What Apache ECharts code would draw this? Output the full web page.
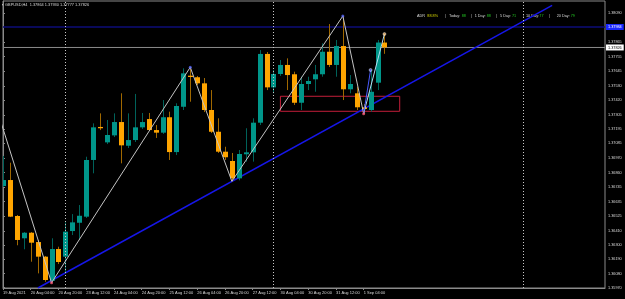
<!DOCTYPE html>
<html><head><meta charset="utf-8">
<script src="https://cdn.jsdelivr.net/npm/echarts@6/dist/echarts.min.js"></script>
<style>html,body{margin:0;padding:0;background:#000;}#c{width:625px;height:299px;}</style>
</head><body><div id="c"></div>
<script>
// GBPUSD H4 candles (bar index 0 = 19 Aug 2021 12:00)
const opens = [1.36756,1.36802,1.36524,1.36352,1.36395,1.36323,1.36210,1.36024,1.36269,1.36210,
1.36408,1.36472,1.36519,1.36957,1.37212,1.37093,1.37147,1.37250,1.37067,1.37111,
1.37209,1.37273,1.37188,1.37168,1.37287,1.37018,1.37368,1.37608,1.37596,1.37549,
1.37343,1.37175,1.37021,1.36949,1.36815,1.37001,1.37016,1.37245,1.37776,1.37518,
1.37621,1.37691,1.37619,1.37399,1.37544,1.37580,1.37619,1.37793,1.37691,1.37837,
1.37503,1.37472,1.37364,1.37343,1.37554,1.37864];
const closes = [1.36802,1.36519,1.36339,1.36395,1.36318,1.36210,1.36030,1.36269,1.36169,1.36403,
1.36475,1.36526,1.36957,1.37209,1.37202,1.37150,1.37250,1.37070,1.37111,1.37209,
1.37250,1.37188,1.37168,1.37287,1.37018,1.37374,1.37626,1.37598,1.37549,1.37343,
1.37175,1.37021,1.36978,1.36815,1.37003,1.37016,1.37245,1.37776,1.37518,1.37621,
1.37691,1.37613,1.37399,1.37544,1.37567,1.37619,1.37793,1.37691,1.37837,1.37503,
1.37544,1.37364,1.37351,1.37484,1.37864,1.37826];
const lows = [1.36748,1.36516,1.36298,1.36267,1.36171,1.36081,1.36016,1.36009,1.36153,1.36081,
1.36377,1.36339,1.36509,1.36854,1.37188,1.37080,1.37134,1.36931,1.37049,1.37096,
1.37196,1.37181,1.37127,1.37158,1.36957,1.36995,1.37343,1.37407,1.37536,1.37327,
1.37165,1.37011,1.36957,1.36792,1.36800,1.36944,1.36944,1.37227,1.37497,1.37472,
1.37606,1.37497,1.37382,1.37343,1.37497,1.37484,1.37600,1.37675,1.37600,1.37420,
1.37472,1.37343,1.37315,1.37330,1.37497,1.37777];
const highs = [1.36988,1.36936,1.36532,1.36400,1.36400,1.36339,1.36215,1.36352,1.36287,1.36475,
1.36539,1.36609,1.36982,1.37240,1.37317,1.37266,1.37317,1.37472,1.37317,1.37467,
1.37320,1.37320,1.37227,1.37420,1.37330,1.37395,1.37665,1.37673,1.37606,1.37590,
1.37497,1.37279,1.37059,1.37011,1.37034,1.37202,1.37279,1.37806,1.37791,1.37652,
1.37729,1.37742,1.37639,1.37600,1.37600,1.37691,1.37858,1.38007,1.37884,1.38069,
1.37613,1.37523,1.37389,1.37652,1.37884,1.37930];

const xTickIdx = [0,4,8,12,16,20,24,28,32,36,40,44,48,52];
const xTickText = ['19 Aug 2021','20 Aug 04:00','20 Aug 20:00','23 Aug 12:00','24 Aug 04:00','24 Aug 20:00',
'25 Aug 12:00','26 Aug 04:00','26 Aug 20:00','27 Aug 12:00','30 Aug 04:00','30 Aug 20:00','31 Aug 12:00','1 Sep 04:00'];
const yTickValues = [1.35970,1.36080,1.36190,1.36300,1.36410,1.36525,1.36635,1.36745,1.36860,1.36970,
1.37085,1.37195,1.37305,1.37420,1.37530,1.37645,1.37755,1.37865,1.38090];

const zigzagX = [-1,7,27,33,49,52];
const zigzagY = [1.37369,1.36009,1.37673,1.36792,1.38069,1.37315];
const zigzagLastX = [52,55];
const zigzagLastY = [1.37315,1.37930];
const zigzagMinorX = [52,53];
const zigzagMinorY = [1.37315,1.37652];
const trendX = [5.03,79.18];
const trendY = [1.35968,1.38151];
const levelPrice = 1.37984;
const bidPrice = 1.37826;
const separatorIdx = [9,39,75];
const zoneX = [40,57.2];
const zoneY = [1.37449,1.37333];
const headerText = '\u25BE GBPUSD,H4  1.37864 1.37930 1.37777 1.37826';
const adrLabels = ['ADR','88.8%','|','Today:','88','|','1 Day:','88','|','5 Day:','71','|','10 Day:','77','|','20 Day:','79'];

const X_MIN = 0, X_MAX = 86.8;
const FONT = 'Liberation Sans, Arial, DejaVu Sans';
const bodyUp = '#00968a', bodyDn = '#ffa500', wickUp = '#00625a', wickDn = '#a06800';

const candleData = opens.map((o,i)=>[i,o,closes[i],lows[i],highs[i]]);
const toPts = (xs,ys)=>xs.map((x,i)=>[x,ys[i]]);

function renderCandle(params, api){
  const i = api.value(0), o = api.value(1), c = api.value(2), l = api.value(3), h = api.value(4);
  const po = api.coord([i,o]), pc = api.coord([i,c]), pl = api.coord([i,l]), ph = api.coord([i,h]);
  const x = Math.round(po[0]);
  const up = c >= o;
  const top = Math.min(po[1],pc[1]), bot = Math.max(po[1],pc[1]);
  return {type:'group', children:[
    {type:'line', shape:{x1:x+0.5,y1:ph[1],x2:x+0.5,y2:pl[1]}, style:{stroke: up?wickUp:wickDn, lineWidth:1}},
    {type:'rect', shape:{x:x-2,y:top,width:5,height:Math.max(bot-top,1)}, style:{fill: up?bodyUp:bodyDn}}
  ]};
}

const adrX = [417,427.3,445,449,461.7,470.7,474.7,486.7,496,500,512,522.7,526,539.3,549.3,556.7,570.7];
const adrGraphics = adrLabels.map((t,k)=>{
  let col = '#d8d8d8';
  if (k===1) col = '#d6d600';
  else if ([4,7,10,13,16].includes(k)) col = '#22c322';
  return {type:'text', x:adrX[k], y:15.7, style:{text:t, fill:col, font:'3.8px '+FONT, textVerticalAlign:'middle'}};
});

function hLine(price, color, width, labelBg, labelColor, z){
  return {type:'line', data:[[X_MIN,price],[X_MAX,price]], showSymbol:false, clip:false, z:z, silent:true,
    lineStyle:{color:color, width:width},
    endLabel:{show:true, distance:1, formatter:()=>price.toFixed(5), color:labelColor, backgroundColor:labelBg,
      fontSize:3.8, fontFamily:FONT, padding:[1,2,1,2]}};
}

const chart = echarts.init(document.getElementById('c'), null, {renderer:'canvas'});
chart.setOption({
  backgroundColor:'#000',
  animation:false,
  grid:{left:1, right:20, top:1, bottom:11, show:true, borderColor:'#8a8a8a', borderWidth:1, backgroundColor:'#000'},
  xAxis:{type:'value', min:X_MIN, max:X_MAX, position:'bottom',
    axisLine:{show:true, lineStyle:{color:'#8a8a8a', width:1}},
    axisTick:{show:true, length:2, inside:false, lineStyle:{color:'#8a8a8a'}, customValues:xTickIdx},
    axisLabel:{show:true, customValues:xTickIdx, align:'left', margin:3, color:'#d8d8d8', fontSize:4, fontFamily:FONT,
      formatter:(v)=>{const k=xTickIdx.indexOf(Math.round(v)); return k>=0?xTickText[k]:'';}},
    splitLine:{show:false}},
  yAxis:{type:'value', position:'right', min:1.35968, max:1.38185, scale:true,
    axisLine:{show:true, lineStyle:{color:'#8a8a8a', width:1}},
    axisTick:{show:true, length:2, lineStyle:{color:'#8a8a8a'}, customValues:yTickValues},
    axisLabel:{show:true, customValues:yTickValues, margin:3, color:'#d8d8d8', fontSize:3.8, fontFamily:FONT,
      formatter:(v)=>v.toFixed(5)},
    splitLine:{show:false}},
  graphic:[
    {type:'text', x:2, y:5, style:{text:headerText, fill:'#d8d8d8', font:'3.9px '+FONT, textVerticalAlign:'middle'}},
    ...adrGraphics
  ],
  series:[
    hLine(levelPrice, '#0c0c78', 1.5, '#1a28ff', '#ffffff', 2),
    hLine(bidPrice, '#8a8a8a', 1, '#ffffff', '#000000', 2),
    {type:'line', data:toPts(trendX,trendY), showSymbol:false, clip:true, z:3,
      lineStyle:{color:'#1616e8', width:1.5}, silent:true},
    {type:'custom', renderItem:renderCandle, data:candleData, encode:{x:0,y:[1,2,3,4]}, clip:true, z:4,
      markLine:{silent:true, symbol:['none','none'], animation:false,
        data: separatorIdx.map(v=>({xAxis:v, lineStyle:{color:'#c8c8c8', width:1, type:[1,2]}, label:{show:false}}))},
      markArea:{silent:true, itemStyle:{color:'rgba(0,0,0,0)', borderColor:'#c41e3a', borderWidth:1},
        data:[[{coord:[zoneX[0],zoneY[0]]},{coord:[zoneX[1],zoneY[1]]}]]}
    },
    {type:'line', data:toPts(zigzagX,zigzagY), showSymbol:false, clip:true, z:5,
      lineStyle:{color:'#c4c4c4', width:1}, silent:true},
    {type:'line', data:toPts(zigzagLastX,zigzagLastY), showSymbol:false, clip:true, z:5,
      lineStyle:{color:'#b8dcf0', width:1}, silent:true},
    {type:'line', data:toPts(zigzagMinorX,zigzagMinorY), showSymbol:false, clip:true, z:5,
      lineStyle:{color:'#4a5cff', width:1}, silent:true},
    {type:'scatter', z:6, symbolSize:3, silent:true,
      data:[
        {value:[7,1.36009], itemStyle:{color:'#ff5a78'}},
        {value:[27,1.37673], itemStyle:{color:'#5a6aff'}},
        {value:[49,1.38069], itemStyle:{color:'#5a6aff'}},
        {value:[52,1.37315], itemStyle:{color:'#ff5a78'}},
        {value:[53,1.37652], itemStyle:{color:'#6a7aff', borderColor:'#ffffff', borderWidth:0.5}},
        {value:[55,1.37930], itemStyle:{color:'#ffc070', borderColor:'#ffffff', borderWidth:0.5}}
      ]}
  ]
});
</script></body></html>
